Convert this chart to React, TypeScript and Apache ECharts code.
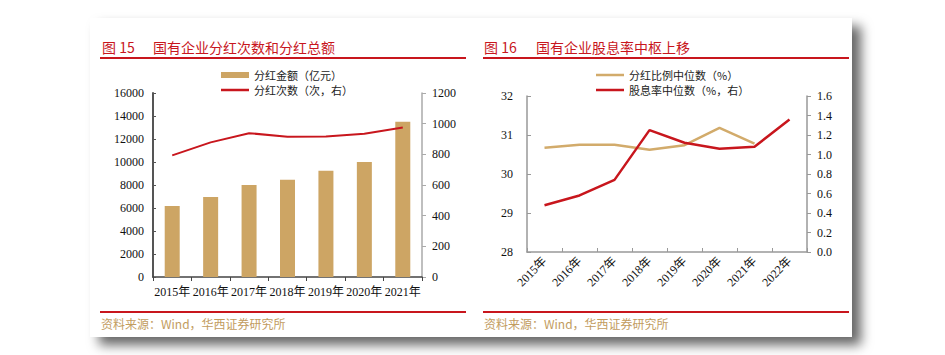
import React, { useEffect, useRef } from "react";
import * as echarts from "echarts";

const years1 = ["2015年", "2016年", "2017年", "2018年", "2019年", "2020年", "2021年"];
const dividendAmount = [6170, 6950, 8000, 8450, 9250, 10000, 13500];
const dividendCount = [793, 878, 938, 915, 917, 934, 975];

const years2 = ["2015年", "2016年", "2017年", "2018年", "2019年", "2020年", "2021年", "2022年"];
const payoutRatio: (number | string)[] = [30.67, 30.75, 30.75, 30.62, 30.74, 31.18, 30.78, "-"];
const dividendYield = [0.48, 0.58, 0.74, 1.25, 1.12, 1.06, 1.08, 1.36];

const title1No = "图 15";
const title1 = "国有企业分红次数和分红总额";
const title2No = "图 16";
const title2 = "国有企业股息率中枢上移";
const sourceText = "资料来源：Wind，华西证券研究所";

const RED = "#C8161D";
const TAN = "#CDA564";
const TAN_LINE = "#D2AB6B";
const SERIF = "'Liberation Serif', 'Times New Roman', 'Noto Sans CJK SC', serif";
const SANS_CJK = "'Noto Sans CJK SC', sans-serif";
const LINE_ICON = "path://M0 0H28V2.5H0Z";

export default function App() {
  const ref = useRef<HTMLDivElement>(null);
  useEffect(() => {
    if (!ref.current) return;
    const chart = echarts.init(ref.current, undefined, { renderer: "svg" });
    const axisLabel = { fontFamily: SERIF, fontSize: 12, color: "#111" };
    const plain = (v: number) => String(v);
    const legendBase = {
      orient: "vertical",
      itemWidth: 28,
      itemHeight: 6,
      itemGap: 3,
      symbolKeepAspect: true,
      textStyle: { fontSize: 11, fontFamily: SANS_CJK, color: "#222", lineHeight: 12 },
    };
    const option: any = {
      animation: false,
      backgroundColor: "#fff",
      graphic: [
        {
          type: "rect",
          z: -10,
          shape: { x: 90, y: 18, width: 762, height: 319 },
          style: {
            fill: "#fff",
            shadowBlur: 12,
            shadowOffsetX: 9,
            shadowOffsetY: 8,
            shadowColor: "rgba(0,0,0,0.6)",
          },
        },
        { type: "text", x: 102, y: 47, style: { text: title1No, fill: RED, fontSize: 14, fontFamily: SANS_CJK, verticalAlign: "middle" } },
        { type: "text", x: 153, y: 47, style: { text: title1, fill: RED, fontSize: 14, fontFamily: SANS_CJK, verticalAlign: "middle" } },
        { type: "text", x: 484, y: 47, style: { text: title2No, fill: RED, fontSize: 14, fontFamily: SANS_CJK, verticalAlign: "middle" } },
        { type: "text", x: 536, y: 47, style: { text: title2, fill: RED, fontSize: 14, fontFamily: SANS_CJK, verticalAlign: "middle" } },
        { type: "rect", shape: { x: 100, y: 57, width: 366, height: 2 }, style: { fill: RED } },
        { type: "rect", shape: { x: 483, y: 57, width: 366, height: 2 }, style: { fill: RED } },
        { type: "rect", shape: { x: 100, y: 311, width: 366, height: 2 }, style: { fill: RED } },
        { type: "rect", shape: { x: 483, y: 311, width: 366, height: 2 }, style: { fill: RED } },
        { type: "text", x: 101, y: 323, style: { text: sourceText, fill: "#C29C5E", fontSize: 12, fontFamily: SANS_CJK, verticalAlign: "middle" } },
        { type: "text", x: 484, y: 323, style: { text: sourceText, fill: "#C29C5E", fontSize: 12, fontFamily: SANS_CJK, verticalAlign: "middle" } },
      ],
      legend: [
        {
          ...legendBase,
          left: 216,
          top: 64,
          data: [
            { name: "分红金额（亿元）", icon: "rect" },
            { name: "分红次数（次，右）", icon: LINE_ICON },
          ],
        },
        {
          ...legendBase,
          left: 591,
          top: 64,
          data: [
            { name: "分红比例中位数（%）", icon: LINE_ICON },
            { name: "股息率中位数（%，右）", icon: LINE_ICON },
          ],
        },
      ],
      grid: [
        { left: 153, right: 945 - 422, top: 93, bottom: 355 - 277 },
        { left: 527, right: 945 - 807, top: 96, bottom: 355 - 252 },
      ],
      xAxis: [
        {
          type: "category",
          gridIndex: 0,
          data: years1,
          axisLine: { lineStyle: { color: "#444", width: 1.5 } },
          axisTick: { show: true, inside: false, length: 4, lineStyle: { color: "#444" } },
          axisLabel: { ...axisLabel, margin: 9, interval: 0 },
        },
        {
          type: "category",
          gridIndex: 1,
          data: years2,
          axisLine: { lineStyle: { color: "#999", width: 1.5 } },
          axisTick: { show: true, inside: true, length: 4, lineStyle: { color: "#999" } },
          axisLabel: { ...axisLabel, fontSize: 12, rotate: 45, margin: 7, interval: 0 },
        },
      ],
      yAxis: [
        {
          type: "value",
          gridIndex: 0,
          min: 0,
          max: 16000,
          interval: 2000,
          splitLine: { show: false },
          axisLine: { show: true, lineStyle: { color: "#555", width: 2 } },
          axisTick: { show: true, inside: true, length: 3, lineStyle: { color: "#555" } },
          axisLabel: { ...axisLabel, margin: 9, formatter: plain },
        },
        {
          type: "value",
          gridIndex: 0,
          position: "right",
          min: 0,
          max: 1200,
          interval: 200,
          splitLine: { show: false },
          axisLine: { show: true, lineStyle: { color: "#aaa", width: 1.5 } },
          axisTick: { show: true, inside: false, length: 4, lineStyle: { color: "#aaa" } },
          axisLabel: { ...axisLabel, margin: 10, formatter: plain },
        },
        {
          type: "value",
          gridIndex: 1,
          min: 28,
          max: 32,
          interval: 1,
          splitLine: { show: false },
          axisLine: { show: true, lineStyle: { color: "#999", width: 1.5 } },
          axisTick: { show: true, inside: true, length: 4, lineStyle: { color: "#999" } },
          axisLabel: { ...axisLabel, margin: 14, formatter: plain },
        },
        {
          type: "value",
          gridIndex: 1,
          position: "right",
          min: 0,
          max: 1.6,
          interval: 0.2,
          splitLine: { show: false },
          axisLine: { show: true, lineStyle: { color: "#999", width: 1.5 } },
          axisTick: { show: true, inside: false, length: 4, lineStyle: { color: "#999" } },
          axisLabel: { ...axisLabel, margin: 10, formatter: (v: number) => v.toFixed(1) },
        },
      ],
      series: [
        {
          name: "分红金额（亿元）",
          type: "bar",
          xAxisIndex: 0,
          yAxisIndex: 0,
          data: dividendAmount,
          barWidth: 15,
          itemStyle: { color: TAN },
        },
        {
          name: "分红次数（次，右）",
          type: "line",
          xAxisIndex: 0,
          yAxisIndex: 1,
          data: dividendCount,
          symbol: "none",
          lineStyle: { color: RED, width: 2 },
          itemStyle: { color: RED },
        },
        {
          name: "分红比例中位数（%）",
          type: "line",
          xAxisIndex: 1,
          yAxisIndex: 2,
          data: payoutRatio,
          symbol: "none",
          lineStyle: { color: TAN_LINE, width: 2.5 },
          itemStyle: { color: TAN_LINE },
        },
        {
          name: "股息率中位数（%，右）",
          type: "line",
          xAxisIndex: 1,
          yAxisIndex: 3,
          data: dividendYield,
          symbol: "none",
          lineStyle: { color: RED, width: 2.5 },
          itemStyle: { color: RED },
        },
      ],
    };
    chart.setOption(option);
    return () => chart.dispose();
  }, []);
  return (
    <div
      ref={ref}
      style={{ position: "absolute", left: 0, top: 0, width: 945, height: 355 }}
    />
  );
}
